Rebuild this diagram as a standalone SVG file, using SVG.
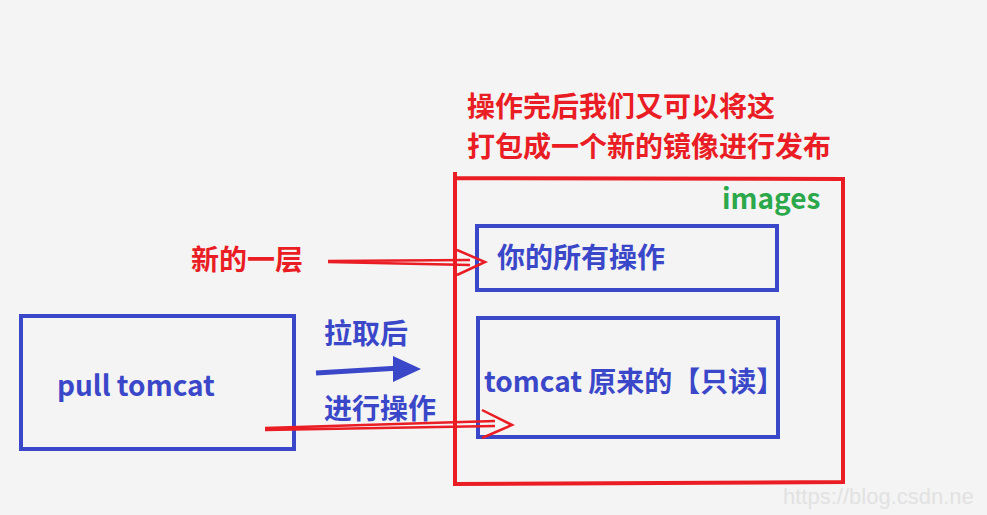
<svg xmlns="http://www.w3.org/2000/svg" width="987" height="515" viewBox="0 0 987 515">
<style>
.red{fill:none;stroke:#ea1c24;stroke-width:4}
.blue{fill:none;stroke:#3b47c9;stroke-width:4}
.t{font-family:"Noto Sans CJK SC","Noto Sans",sans-serif;font-weight:bold;font-size:28px}
.tr{fill:#ea1c24}
.tb{fill:#3b47c9}
.tg{fill:#2aa84a}
.ra{fill:none;stroke:#ea1c24;stroke-width:2.5;stroke-linejoin:miter}
</style>
<rect width="987" height="515" fill="#f4f4f4"/>
<g id="caption">
<text class="t tr" x="467" y="117">操作完后我们又可以将这</text>
<text class="t tr" x="467" y="157">打包成一个新的镜像进行发布</text>
</g>
<g id="images">
<path class="red" d="M455,172 L455,484 L843,482 L843,179 L455,178"/>
<text class="t tg" x="722" y="209" font-size="30">images</text>
</g>
<g id="layer-new">
<rect class="blue" x="477" y="226" width="300" height="64"/>
<text class="t tb" x="497" y="268">你的所有操作</text>
</g>
<g id="layer-tomcat">
<rect class="blue" x="478" y="318" width="300" height="119"/>
<text class="t tb" x="484" y="392">tomcat 原来的【只读】</text>
</g>
<g id="pull">
<rect class="blue" x="21" y="316" width="273" height="133"/>
<text class="t tb" x="57" y="396">pull tomcat</text>
</g>
<g id="labels">
<text class="t tr" x="191" y="270">新的一层</text>
<text class="t tb" x="324" y="344">拉取后</text>
<text class="t tb" x="324" y="419">进行操作</text>
</g>
<g id="connectors">
<path class="ra" d="M328,261 L470,260 M328,262 L470,265"/>
<path class="ra" d="M457,250 L485,262 L457,275"/>
<path d="M316,373 L400,368" stroke="#3b47c9" stroke-width="5" fill="none"/>
<path d="M393,356 L421,369 L393,382 Z" fill="#3b47c9"/>
<path class="ra" d="M265,428 L495,421 M265,430 L495,426"/>
<path class="ra" d="M482,410 L512,425 L482,438"/>
</g>
<text x="783" y="504" font-family="Liberation Sans, sans-serif" font-size="22" fill="#e2e2e2">https://blog.csdn.ne</text>
</svg>
